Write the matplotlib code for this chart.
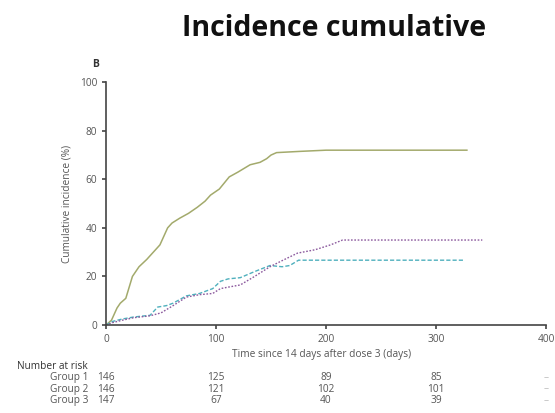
import matplotlib.pyplot as plt
import numpy as np

plt.rcParams['font.family'] = ['Open Sans', 'DejaVu Sans']

# cumulative incidence curves (days, %)
solid_x = [0, 5, 10, 13, 18, 24, 30, 37, 43, 49, 53, 56, 60, 67, 75, 83, 90, 95,
           103, 112, 120, 131, 140, 146, 150, 155, 176, 200, 222, 328]
solid_y = [0, 2, 7, 9, 11, 20, 24, 27, 30, 33, 37, 40, 42, 44, 46, 48.5, 51, 53.5,
           56, 61, 63, 66, 67, 68.5, 70, 71, 71.5, 72, 72, 72]

dash_x = [0, 6, 15, 25, 40, 47, 55, 61, 73, 85, 97, 104, 111, 122, 135, 149,
          160, 167, 175, 325]
dash_y = [0, 1.5, 2.5, 3.3, 4, 7.4, 8, 9, 12, 13, 15, 18, 19, 19.5, 22, 24.5,
          24, 24.5, 26.7, 26.7]

dot_x = [0, 6, 15, 25, 40, 50, 61, 73, 85, 97, 104, 111, 122, 135, 149, 160,
         174, 190, 204, 215, 342]
dot_y = [0, 1, 2, 3, 3.8, 5, 8, 11.5, 12.5, 13, 15, 15.6, 16.5, 20, 24, 26.5,
         29.6, 31, 33, 35, 35]

risk_times = [0, 100, 200, 300, 400]
groups = ['Group 1', 'Group 2', 'Group 3']
at_risk = [[146, 125, 89, 85, '–'],
           [146, 121, 102, 101, '–'],
           [147, 67, 40, 39, '–']]

grey = '#555555'
fs = 7.3

fig = plt.figure(figsize=(5.55, 4.13), dpi=100)
ax = fig.add_axes([0.191, 0.213, 0.793, 0.588])

ax.plot(solid_x, solid_y, color='#a3aa6c', lw=1.1)
ax.plot(dash_x, dash_y, color='#4fb0bd', lw=1.0, ls=(0, (3, 1.5)))
ax.plot(dot_x, dot_y, color='#8c5a9e', lw=1.0, ls=(0, (1.2, 1.2)))

ax.set_xlim(0, 400)
ax.set_ylim(0, 100)
ax.set_xticks(np.arange(0, 401, 100))
ax.set_yticks(np.arange(0, 101, 20))
for s in ['top', 'right']:
    ax.spines[s].set_visible(False)
for s in ['left', 'bottom']:
    ax.spines[s].set_color('#444444')
    ax.spines[s].set_linewidth(1.2)
ax.tick_params(colors='#444444', labelcolor=grey, labelsize=fs, length=3, width=1.2)
ax.set_ylabel('Cumulative incidence (%)', fontsize=fs, color=grey, labelpad=5)
ax.text(0.49, -0.12, 'Time since 14 days after dose 3 (days)', transform=ax.transAxes,
        ha='center', va='center', fontsize=fs, color=grey)

fig.text(0.173, 0.845, 'B', fontsize=7.5, fontweight='bold', color='#333333',
         ha='center', va='center')
fig.text(0.602, 0.932, 'Incidence cumulative', fontsize=20.5, fontweight='bold',
         ha='center', va='center', color='#111111')

# number at risk table
fig.text(0.03, 0.113, 'Number at risk', fontsize=fs, color='#333333', va='center')
row_y = [0.085, 0.058, 0.031]
for g, vals, yy in zip(groups, at_risk, row_y):
    fig.text(0.16, yy, g, fontsize=fs, color=grey, ha='right', va='center')
    for t, v in zip(risk_times, vals):
        xf = ax.transData.transform((t, 0))[0] / fig.bbox.width
        c = '#bbbbbb' if v == '–' else grey
        fig.text(xf, yy, str(v), fontsize=fs, color=c, ha='center', va='center')

fig.savefig('out.png', dpi=100)
